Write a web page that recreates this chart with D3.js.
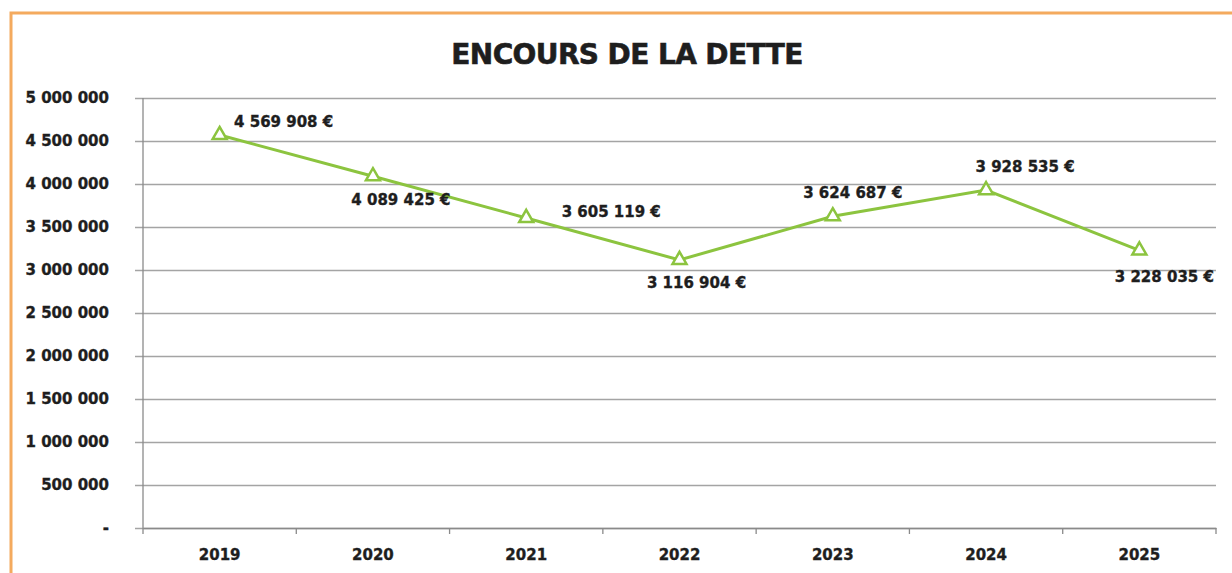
<!DOCTYPE html>
<html>
<head>
<meta charset="utf-8">
<script src="https://cdn.jsdelivr.net/npm/d3@7"></script>
<style>
  body { margin: 0; background: #fff; }
  svg text { font-family: "DejaVu Sans", sans-serif; font-weight: bold; fill: #1e1e1e; stroke: #1e1e1e; stroke-width: 0.35px; }
</style>
</head>
<body>
<div id="chart-area"></div>
<script>
// Donnees
var years = ["2019", "2020", "2021", "2022", "2023", "2024", "2025"];
var encours = [4569908, 4089425, 3605119, 3116904, 3624687, 3928535, 3228035];
var yTicks = [0, 500000, 1000000, 1500000, 2000000, 2500000, 3000000, 3500000, 4000000, 4500000, 5000000];
var yTickLabels = ["-", "500 000", "1 000 000", "1 500 000", "2 000 000", "2 500 000", "3 000 000", "3 500 000", "4 000 000", "4 500 000", "5 000 000"];
// placement des etiquettes (dx, dy par rapport au point)
var labelOffsets = [[64, -13], [28, 24], [85, -6], [17, 23], [20, -23], [39, -23], [25, 27]];

var W = 1232, H = 573;
var margin = { left: 143, right: 16, top: 98, bottom: 45 };
var width = W - margin.left - margin.right;
var height = H - margin.top - margin.bottom;

var svg = d3.select("#chart-area")
	.append("svg")
	.attr("width", W)
	.attr("height", H);

// cadre orange
svg.append("rect")
	.attr("x", 11).attr("y", 13)
	.attr("width", W + 20).attr("height", H + 20)
	.attr("fill", "none")
	.attr("stroke", "#f4aa5e")
	.attr("stroke-width", 3);

svg.append("text")
	.attr("x", 627).attr("y", 64)
	.attr("text-anchor", "middle")
	.attr("font-size", "28px")
	.attr("letter-spacing", "-0.6px")
	.style("stroke-width", "0.6px")
	.text("ENCOURS DE LA DETTE");

var g = svg.append("g")
	.attr("transform", "translate(" + margin.left + "," + margin.top + ")");

var x = d3.scaleBand().domain(years).range([0, width]);
var y = d3.scaleLinear().domain([0, 5000000]).range([height, 0]);

// grille + axe Y
var yAxisCall = d3.axisLeft(y)
	.tickValues(yTicks)
	.tickSize(8)
	.tickPadding(26)
	.tickFormat((d, i) => yTickLabels[i]);
var yAxis = g.append("g").attr("class", "y-axis").call(yAxisCall);
yAxis.select(".domain").remove();
yAxis.selectAll(".tick line").attr("x2", width).attr("x1", -8).attr("stroke", "#a4a4a4").attr("stroke-width", 1.3);
yAxis.selectAll(".tick text").attr("font-size", "15px").attr("fill", "#1e1e1e");

g.append("line")
	.attr("x1", 0).attr("x2", 0)
	.attr("y1", 0).attr("y2", height + 6)
	.attr("stroke", "#8a8a8a").attr("stroke-width", 1.3);

// axe X
var xAxisCall = d3.axisBottom(x).tickSize(0).tickPadding(21);
var xAxis = g.append("g")
	.attr("class", "x-axis")
	.attr("transform", "translate(0," + height + ")")
	.call(xAxisCall);
xAxis.select(".domain").attr("stroke", "#8a8a8a").attr("stroke-width", 1.3);
xAxis.selectAll(".tick text").attr("font-size", "15px").attr("fill", "#1e1e1e");

g.selectAll(".xtick")
	.data(years.slice(1).concat(["end"]))
	.enter().append("line")
	.attr("x1", (d, i) => x.step() * (i + 1))
	.attr("x2", (d, i) => x.step() * (i + 1))
	.attr("y1", height).attr("y2", height + 6)
	.attr("stroke", "#8a8a8a").attr("stroke-width", 1.3);

// courbe
var pts = years.map((yr, i) => ({ yr: yr, v: encours[i], off: labelOffsets[i] }));
var cx = d => x(d.yr) + x.bandwidth() / 2;

g.append("path")
	.datum(pts)
	.attr("fill", "none")
	.attr("stroke", "#8cc43f")
	.attr("stroke-width", 3)
	.attr("d", d3.line().x(cx).y(d => y(d.v)));

g.selectAll(".marker")
	.data(pts)
	.enter().append("path")
	.attr("transform", d => "translate(" + cx(d) + "," + y(d.v) + ")")
	.attr("d", d3.symbol().type(d3.symbolTriangle).size(85))
	.attr("fill", "#fff")
	.attr("stroke", "#8cc43f")
	.attr("stroke-width", 2.5);

g.selectAll(".lbl")
	.data(pts)
	.enter().append("text")
	.attr("x", d => cx(d) + d.off[0])
	.attr("y", d => y(d.v) + d.off[1])
	.attr("text-anchor", "middle")
	.attr("dominant-baseline", "central")
	.attr("font-size", "15px")
	.text(d => d3.format(",")(d.v).replace(/,/g, " ") + " €");
</script>
</body>
</html>
